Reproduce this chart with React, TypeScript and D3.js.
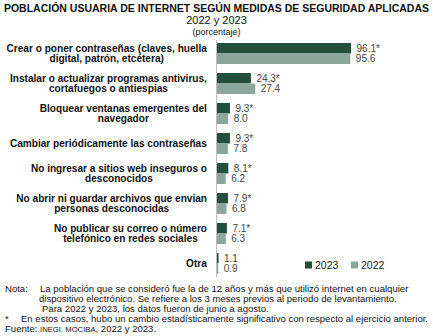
import React from "react";
import * as d3 from "d3";

const categories = [
  "Crear o poner contraseñas (claves, huella\ndigital, patrón, etcétera)",
  "Instalar o actualizar programas antivirus,\ncortafuegos o antiespias",
  "Bloquear ventanas emergentes del\nnavegador",
  "Cambiar periódicamente las contraseñas",
  "No ingresar a sitios web inseguros o\ndesconocidos",
  "No abrir ni guardar archivos que envian\npersonas desconocidas",
  "No publicar su correo o número\ntelefónico en redes sociales",
  "Otra",
];
const series = ["2023", "2022"];
const values2023 = [96.1, 24.3, 9.3, 9.3, 8.1, 7.9, 7.1, 1.1];
const values2022 = [95.6, 27.4, 8.0, 7.8, 6.2, 6.8, 6.3, 0.9];
const significant2023 = [true, true, true, true, true, true, true, false];
const colors = ["#234f3c", "#8ba69b"];

const notes = [
  "La población que se consideró fue la de 12 años y más que utilizó internet en cualquier",
  "dispositivo electrónico. Se refiere a los 3 meses previos al periodo de levantamiento.",
  "Para 2022 y 2023, los datos fueron de junio a agosto.",
];
const starNote =
  "En estos casos, hubo un cambio estadísticamente significativo con respecto al ejercicio anterior.";

const W = 433;
const H = 336;
const FONT = "'Liberation Sans', Arial, sans-serif";

export default function App() {
  const x = d3.scaleLinear().domain([0, 100]).range([217, 356.5]);
  const y = d3
    .scaleBand<number>()
    .domain(d3.range(categories.length))
    .range([38.5, 278.5])
    .paddingInner(0.3)
    .paddingOuter(0.15);
  const ys = d3.scaleBand<string>().domain(series).range([0, y.bandwidth()]);
  const data = [values2023, values2022];

  return (
    <svg
      width={W}
      height={H}
      style={{ position: "absolute", left: 0, top: 0, background: "#fff" }}
      fontFamily={FONT}
    >
      <text x={W / 2} y={11.5} textAnchor="middle" fontWeight="bold" fontSize={10.5} fill="#111">
        POBLACIÓN USUARIA DE INTERNET SEGÚN MEDIDAS DE SEGURIDAD APLICADAS
      </text>
      <text x={W / 2} y={24} textAnchor="middle" fontSize={11} fill="#111">
        2022 y 2023
      </text>
      <text x={W / 2} y={35} textAnchor="middle" fontSize={9} fill="#111">
        (porcentaje)
      </text>

      {categories.map((c, i) => {
        const lines = c.split("\n");
        const cy = (y(i) as number) + y.bandwidth() / 2;
        const lh = 9.6;
        return (
          <g key={i}>
            <text
              fontSize={10.1}
              fontWeight="bold"
              fill="#111"
              textAnchor="middle"
              x={0}
              y={0}
              ref={(el) => {
                if (!el) return;
                const bb = el.getBBox();
                el.setAttribute("transform", `translate(${207 - bb.width / 2},0)`);
              }}
            >
              {lines.map((l, k) => (
                <tspan key={k} x={0} y={cy + (k - (lines.length - 1) / 2) * lh + 3.5}>
                  {l}
                </tspan>
              ))}
            </text>
          </g>
        );
      })}

      {data.map((vals, s) =>
        vals.map((v, i) => {
          const by = (y(i) as number) + (ys(series[s]) as number);
          return (
            <g key={`${s}-${i}`}>
              <rect
                x={x(0)}
                y={by}
                width={x(v) - x(0)}
                height={ys.bandwidth()}
                fill={colors[s]}
              />
              <text
                x={x(v) + 5.5}
                y={by + ys.bandwidth() / 2 + 3.6}
                fontSize={10}
                fill="#444"
              >
                {v.toFixed(1) + (s === 0 && significant2023[i] ? "*" : "")}
              </text>
            </g>
          );
        })
      )}

      <line x1={216.5} x2={216.5} y1={40} y2={277} stroke="#bdbdbd" strokeWidth={1} />

      {series.map((s, k) => (
        <g key={s} transform={`translate(${305 + k * 46},265)`}>
          <rect x={0} y={-3.5} width={7} height={7} fill={colors[k]} />
          <text x={10} y={4} fontSize={10.5} fill="#222">
            {s}
          </text>
        </g>
      ))}

      <g fontSize={9.55} fill="#111">
        <text x={5} y={292}>Nota:</text>
        <text x={40} y={292}>{notes[0]}</text>
        <text x={39} y={302}>{notes[1]}</text>
        <text x={42} y={312}>{notes[2]}</text>
        <text x={5} y={322}>*</text>
        <text x={21} y={322}>{starNote}</text>
        <text x={5} y={332}>
          Fuente: <tspan fontSize={7.7}>INEGI. MOCIBA</tspan>, 2022 y 2023.
        </text>
      </g>
    </svg>
  );
}
